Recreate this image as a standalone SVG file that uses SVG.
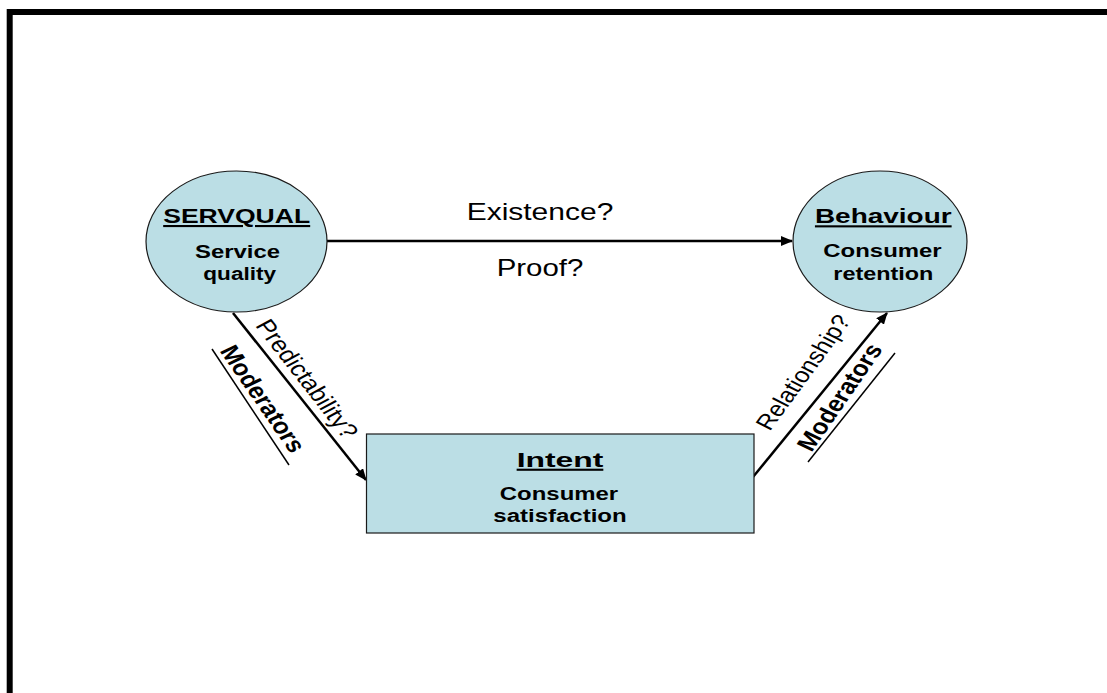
<svg xmlns="http://www.w3.org/2000/svg" width="1107" height="693" viewBox="0 0 1107 693">
<style>
.node{fill:#BBDEE5;stroke:#1a1a1a;stroke-width:1.2}
.t{font-family:"Liberation Sans",Arial,sans-serif;fill:#000;text-anchor:middle}
.b{font-weight:bold}
.u{text-decoration:underline}
.conn{stroke:#000;stroke-width:2.5;fill:none}
</style>
<defs>
<marker id="ah" markerUnits="userSpaceOnUse" markerWidth="12" markerHeight="10" refX="11" refY="5" orient="auto">
<path d="M0,0 L12,5 L0,10 Z" fill="#000"/>
</marker>
</defs>
<rect width="1107" height="693" fill="#fff"/>
<path d="M9.7,693 V12 H1107" fill="none" stroke="#000" stroke-width="6"/>
<g id="connectors">
<line class="conn" x1="327" y1="241" x2="792" y2="241" marker-end="url(#ah)"/>
<line class="conn" x1="233" y1="313" x2="366" y2="480" marker-end="url(#ah)"/>
<line class="conn" x1="753" y1="477" x2="887" y2="313" marker-end="url(#ah)"/>
<text class="t" x="540" y="220" font-size="24" textLength="146.7" lengthAdjust="spacingAndGlyphs">Existence?</text>
<text class="t" x="540" y="276" font-size="24" textLength="86.7" lengthAdjust="spacingAndGlyphs">Proof?</text>
<g transform="translate(307.5,378.5) scale(1.2,1) rotate(57)"><text class="t" x="0" y="8" font-size="22">Predictability?</text></g>
<g transform="translate(802.5,372) scale(1.2,1) rotate(-58.5)"><text class="t" x="0" y="8" font-size="21.5">Relationship?</text></g>
<g transform="translate(263.5,398.5) scale(1.2,1) rotate(60)"><text class="t b" x="0" y="8" font-size="22">Moderators</text></g>
<line x1="212" y1="349" x2="289" y2="465" stroke="#000" stroke-width="1.5"/>
<g transform="translate(839,397) scale(1.2,1) rotate(-60)"><text class="t b" x="0" y="8" font-size="22">Moderators</text></g>
<line x1="808" y1="462" x2="895" y2="353" stroke="#000" stroke-width="1.5"/>
</g>
<g id="servqual">
<ellipse class="node" cx="236.5" cy="241.5" rx="90.5" ry="70.5"/>
<text class="t b u" x="236.7" y="223" font-size="21" textLength="147" lengthAdjust="spacingAndGlyphs">SERVQUAL</text>
<text class="t b" x="237.5" y="257.7" font-size="18" textLength="85" lengthAdjust="spacingAndGlyphs">Service</text>
<text class="t b" x="239.7" y="279.5" font-size="18" textLength="72.7" lengthAdjust="spacingAndGlyphs">quality</text>
</g>
<g id="behaviour">
<ellipse class="node" cx="880" cy="241.5" rx="87" ry="70.5"/>
<text class="t b u" x="883.3" y="223.3" font-size="21" textLength="136.7" lengthAdjust="spacingAndGlyphs">Behaviour</text>
<text class="t b" x="882.5" y="257" font-size="18" textLength="118.3" lengthAdjust="spacingAndGlyphs">Consumer</text>
<text class="t b" x="883.3" y="280" font-size="18" textLength="100" lengthAdjust="spacingAndGlyphs">retention</text>
</g>
<g id="intent">
<rect class="node" x="366.5" y="434" width="387.5" height="99"/>
<text class="t b u" x="560" y="466.7" font-size="21" textLength="86.7" lengthAdjust="spacingAndGlyphs">Intent</text>
<text class="t b" x="559" y="500" font-size="18" textLength="118.3" lengthAdjust="spacingAndGlyphs">Consumer</text>
<text class="t b" x="560" y="522" font-size="18" textLength="133.3" lengthAdjust="spacingAndGlyphs">satisfaction</text>
</g>
</svg>
